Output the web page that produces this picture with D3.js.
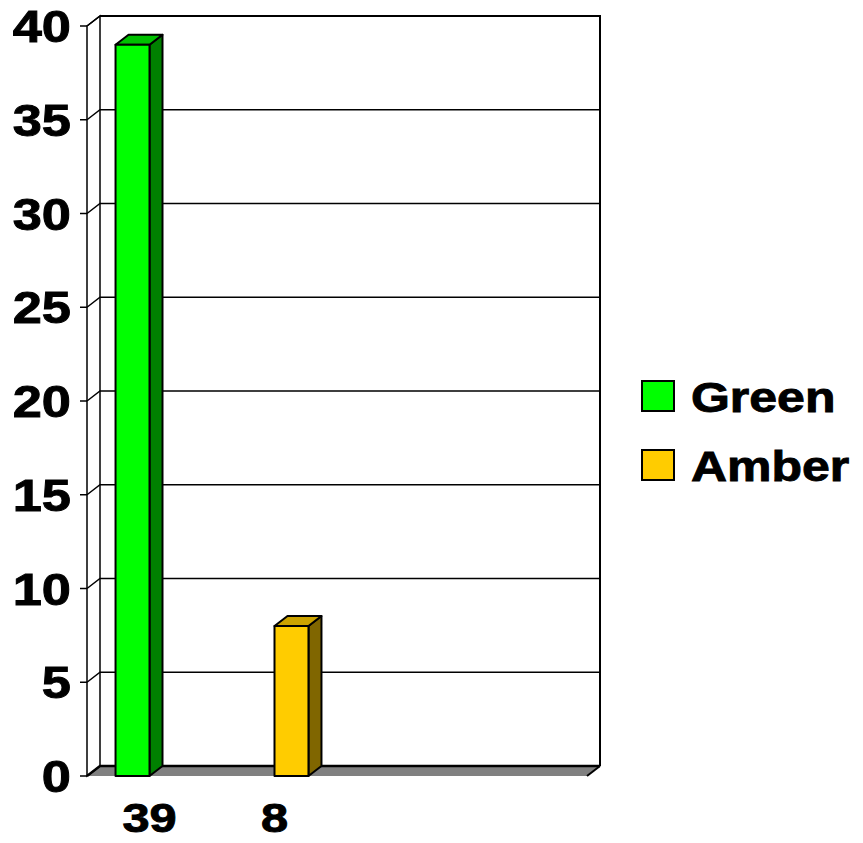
<!DOCTYPE html>
<html>
<head>
<meta charset="utf-8">
<script src="https://cdn.jsdelivr.net/npm/d3@7"></script>
<style>
  body { margin: 0; background: #fff; }
  svg { display: block; }
  text { font-family: "Liberation Sans", Arial, sans-serif; font-weight: bold; fill: #000; stroke: #000; stroke-width: 0.9px; }
</style>
</head>
<body>
<svg width="863" height="843"></svg>
<script>
// chart data
const categories = ["39", "8", "", ""];
const seriesNames = ["Green", "Amber"];
const greenValues = [39, null, null, null];
const amberValues = [null, 8, null, null];
const yTicks = [0, 5, 10, 15, 20, 25, 30, 35, 40];

const colors = {
  Green: { front: "#00ff00", side: "#008000", top: "#00c000" },
  Amber: { front: "#ffcc00", side: "#806600", top: "#cca300" }
};

const svg = d3.select("svg");
const depth = { dx: 13, dy: -10 };   // front plane -> back wall offset
const front = { left: 87, right: 587, bottom: 776, top: 26 };
const stretch = 1.19;                 // the original text is a bit wide

// categories may repeat (blank ones), so band on the index
const x = d3.scaleBand().domain(d3.range(categories.length)).range([front.left, front.right]);
const xs = d3.scaleBand().domain(seriesNames).range([0, x.bandwidth()]).paddingOuter(0.84).paddingInner(0);
const y = d3.scaleLinear().domain([0, 40]).range([front.bottom, front.top]);

function label(px, py, str, anchor, size) {
  svg.append("g")
    .attr("transform", `translate(${px},${py}) scale(${stretch},1)`)
    .append("text")
    .attr("text-anchor", anchor)
    .style("font-size", size + "px")
    .text(str);
}

const bx0 = front.left + depth.dx, bx1 = front.right + depth.dx;
const by = v => y(v) + depth.dy;

// floor
svg.append("polygon")
  .attr("points", [[bx0, by(0)], [bx1, by(0)], [front.right, y(0)], [front.left, y(0)]].join(" "))
  .attr("fill", "#808080");
svg.append("line")
  .attr("x1", bx1).attr("y1", by(0)).attr("x2", front.right).attr("y2", y(0))
  .attr("stroke", "#000").attr("stroke-width", 2);

// left wall
svg.append("polygon")
  .attr("points", [[front.left, y(40)], [bx0, by(40)], [bx0, by(0)], [front.left, y(0)]].join(" "))
  .attr("fill", "#fff").attr("stroke", "#000").attr("stroke-width", 1.5);

// gridlines on back wall and left wall
yTicks.forEach(t => {
  svg.append("polyline")
    .attr("points", [[front.left, y(t)], [bx0, by(t)], [bx1, by(t)]].join(" "))
    .attr("fill", "none").attr("stroke", "#000").attr("stroke-width", t === 0 ? 2.5 : 1.5);
  svg.append("line")
    .attr("x1", front.left - 7).attr("x2", front.left)
    .attr("y1", y(t)).attr("y2", y(t))
    .attr("stroke", "#000").attr("stroke-width", 1.5);
  label(71, y(t) + 16, String(t), "end", 44);
});

// back wall frame
svg.append("polyline")
  .attr("points", [[bx0, by(40)], [bx1, by(40)], [bx1, by(0)]].join(" "))
  .attr("fill", "none").attr("stroke", "#000").attr("stroke-width", 2);

// bars
const seriesData = { Green: greenValues, Amber: amberValues };
seriesNames.forEach(s => {
  seriesData[s].forEach((v, i) => {
    if (v == null) return;
    const x0 = x(i) + xs(s);
    const x1 = x0 + xs.bandwidth();
    const y0 = y(0), y1 = y(v);
    const g = svg.append("g").attr("stroke", "#000").attr("stroke-width", 2).attr("stroke-linejoin", "round");
    g.append("polygon")
      .attr("points", [[x1, y1], [x1 + depth.dx, y1 + depth.dy], [x1 + depth.dx, y0 + depth.dy], [x1, y0]].join(" "))
      .attr("fill", colors[s].side);
    g.append("polygon")
      .attr("points", [[x0, y1], [x0 + depth.dx, y1 + depth.dy], [x1 + depth.dx, y1 + depth.dy], [x1, y1]].join(" "))
      .attr("fill", colors[s].top);
    g.append("rect")
      .attr("x", x0).attr("y", y1).attr("width", x1 - x0).attr("height", y0 - y1)
      .attr("fill", colors[s].front);
  });
});

// category labels
categories.forEach((c, i) => {
  if (c) label(x(i) + x.bandwidth() / 2, 832, c, "middle", 41);
});

// legend
seriesNames.forEach((s, i) => {
  const ly = 381 + i * 69;
  svg.append("rect")
    .attr("x", 642).attr("y", ly).attr("width", 32).attr("height", 30)
    .attr("fill", colors[s].front).attr("stroke", "#000").attr("stroke-width", 2);
  svg.append("g")
    .attr("transform", `translate(691,${ly + 31}) scale(${stretch},1)`)
    .append("text").style("font-size", "42px").text(s);
});
</script>
</body>
</html>
